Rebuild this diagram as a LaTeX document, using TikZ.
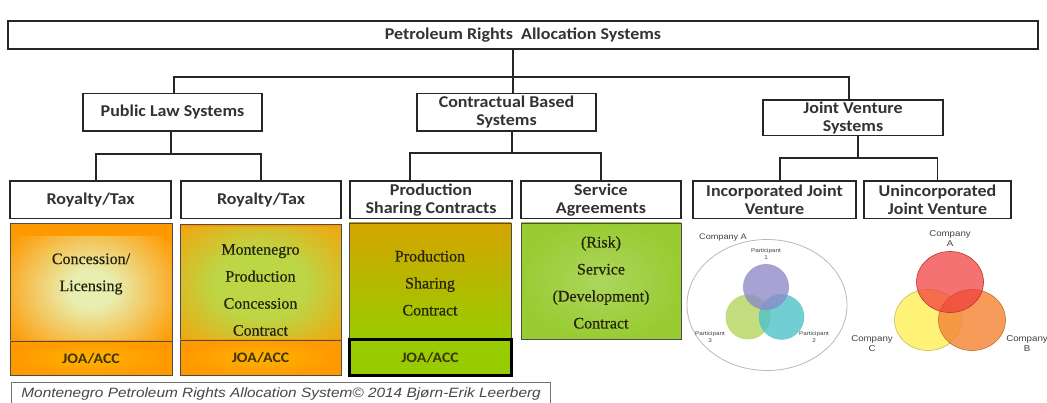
\documentclass[tikz,border=0pt]{standalone}
\usepackage{fontspec}
\setmainfont{Liberation Serif}
\newfontfamily\serfont[FakeBold=0.45]{Liberation Serif}
\newfontfamily\hdrfont[FakeStretch=1.09]{Carlito}
\newfontfamily\ftfont[FakeStretch=1.14]{Liberation Sans}
\definecolor{orng}{HTML}{FF9900}
\definecolor{glowA}{HTML}{E8EEB0}
\definecolor{glowB}{HTML}{BCD645}
\definecolor{cthreetop}{HTML}{D4A400}
\definecolor{cthreemid}{HTML}{B6BC00}
\definecolor{cthreebot}{HTML}{99CC00}
\definecolor{svcout}{HTML}{99CC33}
\definecolor{svcin}{HTML}{ACD65E}
\definecolor{joagreen}{HTML}{99CC00}
\definecolor{textdark}{HTML}{26230A}
\definecolor{joatxt}{HTML}{3E3406}
\definecolor{vpurple}{HTML}{8D88C9}
\definecolor{vgreen}{HTML}{B8D868}
\definecolor{vteal}{HTML}{4EC2C8}
\definecolor{vred}{HTML}{F03C3C}
\definecolor{vyellow}{HTML}{FFF060}
\definecolor{vorange}{HTML}{F58A3C}
\definecolor{vring}{HTML}{C8B0BC}
\pgfdeclareradialshading{glowone}{\pgfpointorigin}{color(0bp)=(glowA); color(7bp)=(glowA); color(31bp)=(orng); color(50bp)=(orng)}
\pgfdeclareradialshading{glowtwo}{\pgfpointorigin}{color(0bp)=(glowB); color(14bp)=(glowB); color(40bp)=(orng); color(50bp)=(orng)}
\begin{document}
\begin{tikzpicture}[x=1pt,y=-1pt,
  hbox/.style={draw=black!85, line width=1.3pt, fill=white, inner sep=0pt, align=center, text=black!80, font=\hdrfont\bfseries\fontsize{16.5}{18}\selectfont},
  wire/.style={draw=black!85, line width=1.3pt},
  cbox/.style={draw=black!70, line width=0.9pt, inner sep=0pt},
  stext/.style={align=center, text=textdark, font=\serfont\fontsize{16}{27}\selectfont},
  joabox/.style={cbox, text=joatxt, font=\hdrfont\bfseries\fontsize{14.5}{17}\selectfont},
  vlabel/.style={align=center, text=black!75, inner sep=0pt, font=\ftfont\fontsize{8.5}{10}\selectfont},
  plabel/.style={align=center, text=black!75, inner sep=0pt, font=\ftfont\fontsize{5.5}{6.7}\selectfont}
]
\useasboundingbox (0,0) rectangle (1047,403);
\fill[white] (0,0) rectangle (1047,403);

% ---------- header tree ----------
\node[hbox, line width=1.6pt, minimum width=1030pt, minimum height=28pt] (top) at (523,35) {Petroleum Rights\ \ Allocation Systems};
\node[hbox, minimum width=179pt, minimum height=37.5pt] (pub) at (172.5,112.25) {Public Law Systems};
\node[hbox, minimum width=179pt, minimum height=37.5pt] (con) at (506.5,112.25) {Contractual Based\\Systems};
\node[hbox, minimum width=180pt, minimum height=35.5pt] (jv) at (853,117.75) {Joint Venture\\Systems};

\node[hbox, minimum width=161pt, minimum height=37.5pt] (rt1) at (90.5,199.75) {Royalty/Tax};
\node[hbox, minimum width=160pt, minimum height=37.5pt] (rt2) at (261,199.75) {Royalty/Tax};
\node[hbox, minimum width=162pt, minimum height=37.5pt] (psc) at (431,199.75) {Production\\Sharing Contracts};
\node[hbox, minimum width=160pt, minimum height=37.5pt] (sa) at (601,199.75) {Service\\Agreements};
\node[hbox, minimum width=163pt, minimum height=37.5pt] (ijv) at (774.5,199.75) {Incorporated Joint\\Venture};
\node[hbox, minimum width=147pt, minimum height=37.5pt] (ujv) at (937.5,199.75) {Unincorporated\\Joint Venture};

\coordinate (bus1) at (513,77);
\coordinate (bus2) at (171,154);
\coordinate (bus3) at (512,153);
\coordinate (bus4) at (858,158);
\draw[wire] (top.south -| bus1) -- (con.north -| bus1);
\draw[wire] ([xshift=1.5pt]pub.north) |- (bus1) -| ([xshift=-4pt]jv.north);
\draw[wire] (pub.south -| bus2) -- (bus2);
\draw[wire] ([xshift=5.5pt]rt1.north) |- (bus2) -| (rt2.north);
\draw[wire] (con.south -| bus3) -- (bus3);
\draw[wire] ([xshift=-21pt]psc.north) |- (bus3) -| (sa.north);
\draw[wire] (jv.south -| bus4) -- (bus4);
\draw[wire] ([xshift=5.5pt]ijv.north) |- (bus4) -| (ujv.north);

% ---------- coloured boxes ----------
\node[cbox, fill=orng, minimum width=162pt, minimum height=118pt,
  path picture={\shade[shading=glowone] ([yshift=-14pt]path picture bounding box.south west) rectangle ([yshift=-14pt]path picture bounding box.north east);}] (c1) at (91,282) {};
\node[joabox, inner color=orng!75!yellow, outer color=orng, minimum width=162pt, minimum height=34.5pt] (joa1) at (91,358.25) {JOA/ACC};

\node[cbox, fill=orng, minimum width=161pt, minimum height=116pt,
  path picture={\shade[shading=glowtwo] ([yshift=-4pt]path picture bounding box.south west) rectangle ([yshift=-4pt]path picture bounding box.north east);}] (c2) at (260.5,282) {};
\node[joabox, inner color=orng!75!yellow, outer color=orng, minimum width=161pt, minimum height=35pt] (joa2) at (260.5,357.5) {JOA/ACC};

\node[cbox, top color=cthreetop, middle color=cthreemid, bottom color=cthreebot, minimum width=162pt, minimum height=116pt] (c3) at (430,281) {};
\node[joabox, draw=black, line width=3pt, fill=joagreen, minimum width=162pt, minimum height=36pt] (joa3) at (430,357.75) {JOA/ACC};

\node[cbox, inner color=svcin, outer color=svcout, minimum width=160pt, minimum height=116pt] (c4) at (601,281) {};

\node[stext] (t1) at (91,274) {Concession/\\Licensing};
\node[stext] (t2) at (260.5,290) {Montenegro\\Production\\Concession\\Contract};
\node[stext] (t3) at (430,283) {Production\\Sharing\\Contract};
\node[stext] (t4) at (601,282.5) {(Risk)\\Service\\(Development)\\Contract};

% ---------- footer ----------
\node[draw=black!55, line width=0.8pt, anchor=west, inner xsep=10pt, minimum height=24pt, text=black!72, font=\ftfont\itshape\fontsize{13.5}{15}\selectfont] (foot) at (11,394) {Montenegro Petroleum Rights Allocation System\textcopyright{} 2014 Bjørn-Erik Leerberg};

% ---------- Venn: incorporated JV ----------
\draw[vring, line width=0.8pt] (767,305) ellipse [x radius=80, y radius=65.5];
\fill[vgreen, fill opacity=0.85] (748,317) circle [radius=22.5];
\fill[vteal, fill opacity=0.8] (781.5,317) circle [radius=22.8];
\fill[vpurple, fill opacity=0.78] (766,287) circle [radius=23];
\node[vlabel, font=\ftfont\fontsize{8}{10}\selectfont] (ca) at (723,238) {Company A};
\node[plabel] (p1) at (766,254) {Participant\\1};
\node[plabel] (p3) at (710,337) {Participant\\3};
\node[plabel] (p2) at (814,337) {Participant\\2};

% ---------- Venn: unincorporated JV ----------
\filldraw[fill=vyellow, draw=vyellow!70!black!80, fill opacity=0.85, line width=0.6pt] (928,320) ellipse [x radius=33.5, y radius=30.5];
\filldraw[fill=vorange, draw=vorange!80!black, fill opacity=0.85, line width=0.6pt] (972,320) ellipse [x radius=33.5, y radius=30.5];
\filldraw[fill=vred, draw=vred!80!black, fill opacity=0.72, line width=0.6pt] (950,282) ellipse [x radius=33.5, y radius=30.5];
\node[vlabel] (cA) at (950,239) {Company\\A};
\node[vlabel] (cC) at (872,344) {Company\\C};
\node[vlabel] (cB) at (1027,344) {Company\\B};
\end{tikzpicture}
\end{document}
